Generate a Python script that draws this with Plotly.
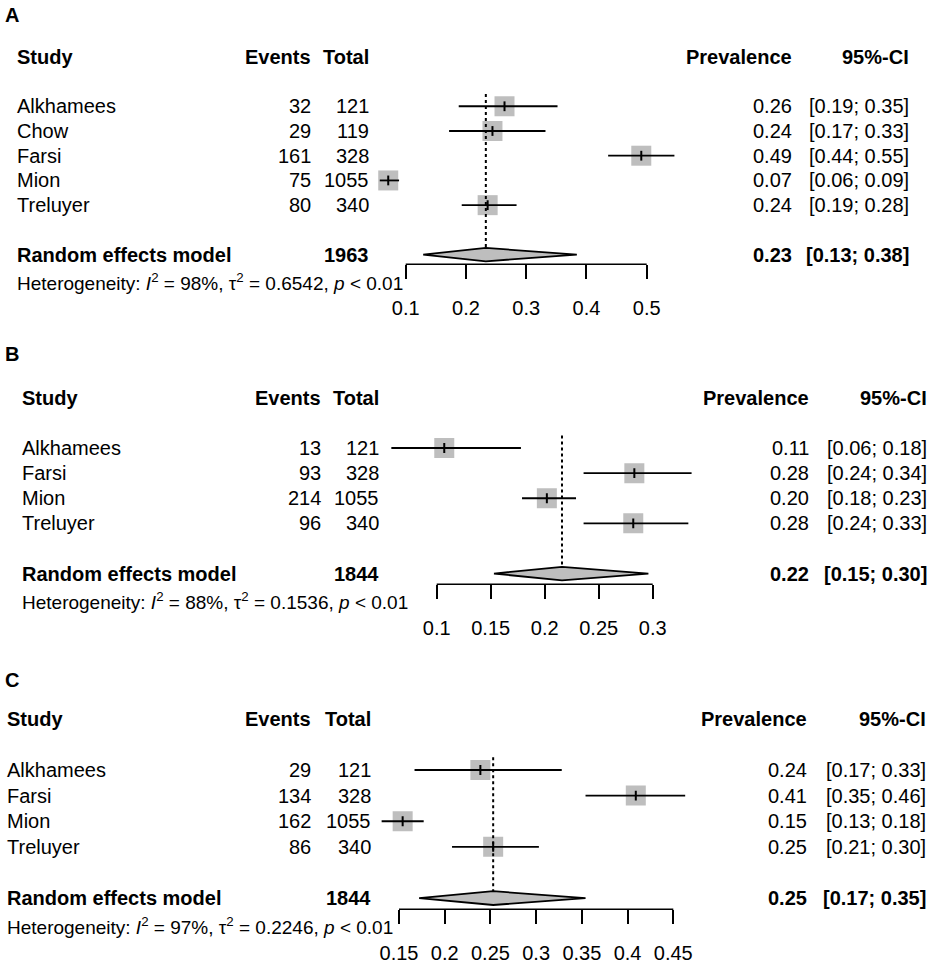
import plotly.graph_objects as go

W, H = 935, 964
FONT = "Liberation Sans, Arial, sans-serif"
GREY = "#bebebe"

# ---------------- data ----------------
# A
studies_a = ["Alkhamees", "Chow", "Farsi", "Mion", "Treluyer"]
events_a = [32, 29, 161, 75, 80]
total_a = [121, 119, 328, 1055, 340]
prev_a = [0.264, 0.244, 0.491, 0.071, 0.236]
lower_a = [0.188, 0.172, 0.436, 0.057, 0.193]
upper_a = [0.352, 0.332, 0.546, 0.089, 0.284]
random_a = [0.233, 0.129, 0.384]        # estimate, lower, upper
n_total_a = 1963
het_a = ["98%", "0.6542", "&lt; 0.01"]   # I2, tau2, p
ticks_a = [0.1, 0.2, 0.3, 0.4, 0.5]
tick_text_a = ["0.1", "0.2", "0.3", "0.4", "0.5"]

# B
studies_b = ["Alkhamees", "Farsi", "Mion", "Treluyer"]
events_b = [13, 93, 214, 96]
total_b = [121, 328, 1055, 340]
prev_b = [0.107, 0.283, 0.202, 0.282]
lower_b = [0.058, 0.236, 0.179, 0.236]
upper_b = [0.178, 0.336, 0.229, 0.333]
random_b = [0.216, 0.153, 0.296]
n_total_b = 1844
het_b = ["88%", "0.1536", "&lt; 0.01"]
ticks_b = [0.1, 0.15, 0.2, 0.25, 0.3]
tick_text_b = ["0.1", "0.15", "0.2", "0.25", "0.3"]

# C
studies_c = ["Alkhamees", "Farsi", "Mion", "Treluyer"]
events_c = [29, 134, 162, 86]
total_c = [121, 328, 1055, 340]
prev_c = [0.239, 0.409, 0.154, 0.253]
lower_c = [0.167, 0.354, 0.131, 0.208]
upper_c = [0.328, 0.463, 0.177, 0.303]
random_c = [0.253, 0.172, 0.354]
n_total_c = 1844
het_c = ["97%", "0.2246", "&lt; 0.01"]
ticks_c = [0.15, 0.2, 0.25, 0.3, 0.35, 0.4, 0.45]
tick_text_c = ["0.15", "0.2", "0.25", "0.3", "0.35", "0.4", "0.45"]

panels = [
    dict(label="A", studies=studies_a, events=events_a, total=total_a, prev=prev_a,
         lower=lower_a, upper=upper_a, random=random_a, n=n_total_a, het=het_a,
         ticks=ticks_a, tick_text=tick_text_a),
    dict(label="B", studies=studies_b, events=events_b, total=total_b, prev=prev_b,
         lower=lower_b, upper=upper_b, random=random_b, n=n_total_b, het=het_b,
         ticks=ticks_b, tick_text=tick_text_b),
    dict(label="C", studies=studies_c, events=events_c, total=total_c, prev=prev_c,
         lower=lower_c, upper=upper_c, random=random_c, n=n_total_c, het=het_c,
         ticks=ticks_c, tick_text=tick_text_c),
]

# where each panel sits on the page (pixels)
geom = [
    dict(label_y=15, header_y=57, pitch=24.8, axis_y=265, top_y=0, het_y=283,
         study_x=16, events_x=312, total_x=370, prev_x=793, ci_x=910,
         x0_px=405.7, x0_val=0.1, ppu=602.5),
    dict(label_y=355, header_y=399, pitch=25.2, axis_y=586, top_y=300, het_y=603,
         study_x=21, events_x=322, total_x=380, prev_x=810, ci_x=928,
         x0_px=436.7, x0_val=0.1, ppu=1080),
    dict(label_y=682, header_y=721, pitch=25.7, axis_y=912, top_y=620, het_y=929,
         study_x=6, events_x=312, total_x=372, prev_x=808, ci_x=927,
         x0_px=399, x0_val=0.15, ppu=914.3),
]

fig = go.Figure()
annotations = []
shapes = []


def add_text(text, x_px, y, yref, anchor, size=20, bold=False):
    if bold:
        text = "<b>" + text + "</b>"
    annotations.append(dict(
        text=text, x=x_px / W, xref="paper", y=y, yref=yref,
        xanchor=anchor, yanchor="middle", showarrow=False, borderpad=0,
        font=dict(family=FONT, size=size, color="black")))


for i, (p, g) in enumerate(zip(panels, geom)):
    k = "" if i == 0 else str(i + 1)
    xa, ya = "x" + k, "y" + k
    n = len(p["studies"])
    rows = [2 + j for j in range(n)]
    re_row = n + 3
    half_h = 0.27

    # axes
    x_lo = g["x0_val"] - g["x0_px"] / g["ppu"]
    x_hi = g["x0_val"] + (W - g["x0_px"]) / g["ppu"]
    fig.update_layout({
        "xaxis" + k: dict(
            domain=[0, 1], range=[x_lo, x_hi], anchor=ya,
            tickvals=p["ticks"], ticktext=p["tick_text"],
            ticks="outside", ticklen=14, tickwidth=1.5, tickcolor="black",
            showgrid=False, zeroline=False, showline=False,
            tickfont=dict(family=FONT, size=20, color="black"),
            ticklabelstandoff=12, fixedrange=True),
        "yaxis" + k: dict(
            domain=[1 - g["axis_y"] / H, 1 - g["top_y"] / H],
            range=[(g["axis_y"] - g["header_y"]) / g["pitch"],
                   (g["top_y"] - g["header_y"]) / g["pitch"]],
            anchor=xa, visible=False, fixedrange=True),
    })

    # axis line only across the tick range
    shapes.append(dict(type="line", xref=xa, yref=ya + " domain",
                       x0=min(p["ticks"]), x1=max(p["ticks"]), y0=0, y1=0,
                       line=dict(color="black", width=1.5)))

    # study squares
    fig.add_trace(go.Scatter(
        x=p["prev"], y=rows, xaxis=xa, yaxis=ya, mode="markers",
        marker=dict(symbol="square", size=20, color=GREY, line=dict(width=0)),
        showlegend=False, hoverinfo="skip"))

    # confidence intervals
    ci_x, ci_y = [], []
    for lo, hi, r in zip(p["lower"], p["upper"], rows):
        ci_x += [lo, hi, None]
        ci_y += [r, r, None]
    fig.add_trace(go.Scatter(
        x=ci_x, y=ci_y, xaxis=xa, yaxis=ya, mode="lines",
        line=dict(color="black", width=1.8),
        showlegend=False, hoverinfo="skip"))

    # point estimate tick
    fig.add_trace(go.Scatter(
        x=p["prev"], y=rows, xaxis=xa, yaxis=ya, mode="markers",
        marker=dict(symbol="line-ns-open", size=7, color="black", line=dict(width=2)),
        showlegend=False, hoverinfo="skip"))

    est, re_lo, re_hi = p["random"]
    # dotted line at pooled estimate
    fig.add_trace(go.Scatter(
        x=[est, est], y=[1.5, re_row - half_h], xaxis=xa, yaxis=ya, mode="lines",
        line=dict(color="black", width=2, dash="dot"),
        showlegend=False, hoverinfo="skip"))

    # pooled diamond
    fig.add_trace(go.Scatter(
        x=[re_lo, est, re_hi, est, re_lo],
        y=[re_row, re_row - half_h, re_row, re_row + half_h, re_row],
        xaxis=xa, yaxis=ya, mode="lines", fill="toself", fillcolor=GREY,
        line=dict(color="black", width=1.8),
        showlegend=False, hoverinfo="skip"))

    # panel letter
    add_text(p["label"], 4, 1 - g["label_y"] / H, "paper", "left", bold=True)

    # headers
    add_text("Study", g["study_x"], 0, ya, "left", bold=True)
    add_text("Events", g["events_x"], 0, ya, "right", bold=True)
    add_text("Total", g["total_x"], 0, ya, "right", bold=True)
    add_text("Prevalence", g["prev_x"], 0, ya, "right", bold=True)
    add_text("95%-CI", g["ci_x"], 0, ya, "right", bold=True)

    # study rows
    for j, r in enumerate(rows):
        add_text(p["studies"][j], g["study_x"], r, ya, "left")
        add_text(str(p["events"][j]), g["events_x"], r, ya, "right")
        add_text(str(p["total"][j]), g["total_x"], r, ya, "right")
        add_text(f"{p['prev'][j]:.2f}", g["prev_x"], r, ya, "right")
        add_text(f"[{p['lower'][j]:.2f}; {p['upper'][j]:.2f}]", g["ci_x"], r, ya, "right")

    # random effects row
    add_text("Random effects model", g["study_x"], re_row, ya, "left", bold=True)
    add_text(str(p["n"]), g["total_x"], re_row, ya, "right", bold=True)
    add_text(f"{est:.2f}", g["prev_x"], re_row, ya, "right", bold=True)
    add_text(f"[{re_lo:.2f}; {re_hi:.2f}]", g["ci_x"], re_row, ya, "right", bold=True)

    i2, tau2, pval = p["het"]
    add_text(f"Heterogeneity: <i>I</i><sup>2</sup> = {i2}, τ<sup>2</sup> = {tau2}, <i>p</i> {pval}",
             g["study_x"], 1 - g["het_y"] / H, "paper", "left", size=19)

fig.update_layout(
    width=W, height=H, autosize=False,
    margin=dict(l=0, r=0, t=0, b=0),
    paper_bgcolor="white", plot_bgcolor="white",
    annotations=annotations, shapes=shapes,
    font=dict(family=FONT, color="black"),
)

# page body margin would push the figure 8px off the corner
fig.write_html("out.html", config={"displayModeBar": False},
               post_script="document.body.style.margin='0px';document.body.style.overflow='hidden';")
